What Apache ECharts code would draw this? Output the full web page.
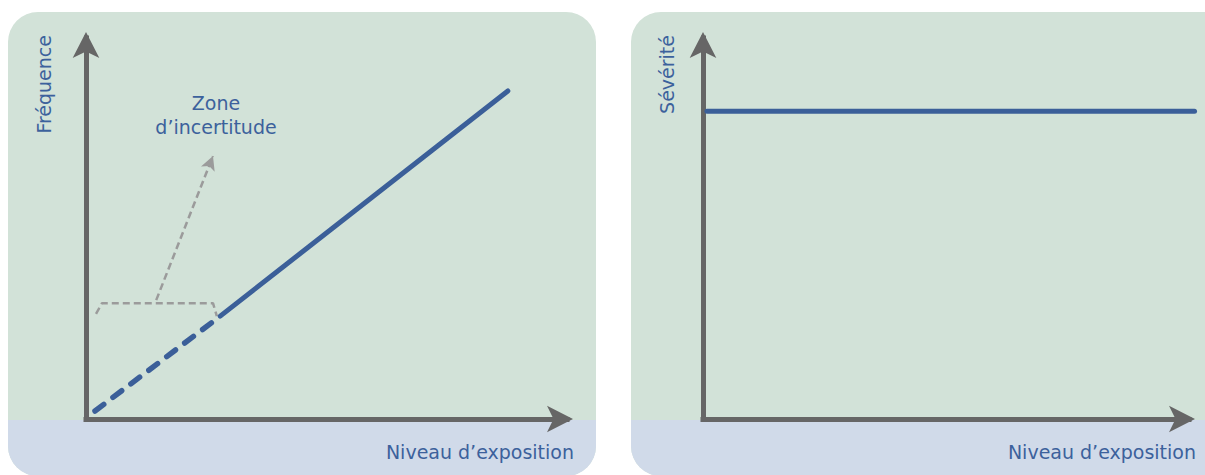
<!DOCTYPE html>
<html lang="fr" style="height: 100%;margin: 0;">
<head>
    <meta charset="UTF-8">
    <title>chart</title>
</head>
<body style="height: 100%;margin: 0;background:#fff;">
<div id="chart" style="width:1205px;height:475px;margin: 0;"></div>
<script src="https://cdn.jsdelivr.net/npm/echarts@6/dist/echarts.min.js"></script>
<script>
    // fréquence (panneau gauche)
    var freqDashedX = [1.87, 27.9];
    var freqDashedY = [2.1, 27.0];
    var freqSolidX = [27.9, 87.7];
    var freqSolidY = [27.0, 86.1];
    // zone d'incertitude : accolade + flèche
    var bracketX = [2.08, 3.33, 26.4, 27.2];
    var bracketY = [27.6, 30.4, 30.4, 27.0];
    var pointerFrom = [14.6, 31.2];
    var pointerTo = [26.4, 69.0];
    // sévérité (panneau droit)
    var severityX = [0.8, 99.5];
    var severityY = [80.8, 80.8];

    var blue = '#3b5f99';
    var textBlue = '#3c619c';
    var axisGray = '#666666';
    var dashGray = '#9b9b9b';
    var font = '19px "DejaVu Sans"';

    function pairs(xs, ys) {
        var out = [];
        for (var i = 0; i < xs.length; i++) out.push([xs[i], ys[i]]);
        return out;
    }

    var chart = echarts.init(document.getElementById('chart'), null, {renderer: 'svg'});

    function arrowAxis(gridIndex) {
        return {
            type: 'value', gridIndex: gridIndex, min: 0, max: 100,
            axisLine: {onZero: false, symbol: ['none', 'arrow'], symbolSize: [20, 26], symbolOffset: [0, 6],
                lineStyle: {color: axisGray, width: 5, cap: 'square'}},
            axisTick: {show: false}, axisLabel: {show: false}, splitLine: {show: false}
        };
    }
    function hiddenAxis(gridIndex) {
        return {type: 'value', gridIndex: gridIndex, min: 0, max: 100, show: false};
    }

    var option = {
        animation: false,
        graphic: [
            {type: 'rect', z: -10, shape: {x: 8, y: 12, width: 588, height: 464, r: 30}, style: {fill: '#d2e2d8'}},
            {type: 'rect', z: -9, shape: {x: 8, y: 420, width: 588, height: 56, r: [0, 0, 30, 30]}, style: {fill: '#d0dae9'}},
            {type: 'rect', z: -10, shape: {x: 631, y: 12, width: 640, height: 464, r: 30}, style: {fill: '#d2e2d8'}},
            {type: 'rect', z: -9, shape: {x: 631, y: 420, width: 640, height: 56, r: [0, 0, 30, 30]}, style: {fill: '#d0dae9'}},
            {type: 'text', x: 44, y: 35, rotation: Math.PI / 2,
                style: {text: 'Fréquence', fill: textBlue, font: font, align: 'right', verticalAlign: 'middle'}},
            {type: 'text', x: 667, y: 35, rotation: Math.PI / 2,
                style: {text: 'Sévérité', fill: textBlue, font: font, align: 'right', verticalAlign: 'middle'}},
            {type: 'text', x: 216, y: 115,
                style: {text: 'Zone\nd’incertitude', fill: textBlue, font: font, lineHeight: 24, align: 'center', verticalAlign: 'middle'}},
            {type: 'text', x: 574, y: 452,
                style: {text: 'Niveau d’exposition', fill: textBlue, font: font, align: 'right', verticalAlign: 'middle'}},
            {type: 'text', x: 1196, y: 452,
                style: {text: 'Niveau d’exposition', fill: textBlue, font: font, align: 'right', verticalAlign: 'middle'}}
        ],
        grid: [
            {left: 86, right: 638, top: 38, bottom: 56},
            {left: 703, right: 16, top: 38, bottom: 56},
            // même échelle verticale, mais la courbe de sévérité dépasse la flèche
            {left: 703, right: 8, top: 38, bottom: 56}
        ],
        xAxis: [arrowAxis(0), arrowAxis(1), hiddenAxis(2)],
        yAxis: [arrowAxis(0), arrowAxis(1), hiddenAxis(2)],
        series: [
            {
                type: 'line', xAxisIndex: 0, yAxisIndex: 0, symbol: 'none',
                data: pairs(bracketX, bracketY),
                lineStyle: {color: dashGray, width: 2.5, type: [7, 4]},
                markLine: {
                    silent: true, symbol: ['none', 'arrow'], symbolSize: [11, 14],
                    label: {show: false},
                    lineStyle: {color: dashGray, width: 2.5, type: [7, 4]},
                    data: [[{coord: pointerFrom}, {coord: pointerTo}]]
                }
            },
            {
                type: 'line', xAxisIndex: 0, yAxisIndex: 0, symbol: 'none',
                data: pairs(freqDashedX, freqDashedY),
                lineStyle: {color: blue, width: 5.5, type: [11, 11.5], cap: 'round'}
            },
            {
                type: 'line', xAxisIndex: 0, yAxisIndex: 0, symbol: 'none',
                data: pairs(freqSolidX, freqSolidY),
                lineStyle: {color: blue, width: 5, cap: 'round'}
            },
            {
                type: 'line', xAxisIndex: 2, yAxisIndex: 2, symbol: 'none',
                data: pairs(severityX, severityY),
                lineStyle: {color: blue, width: 5, cap: 'round'}
            }
        ]
    };
    chart.setOption(option);
</script>
</body>
</html>
